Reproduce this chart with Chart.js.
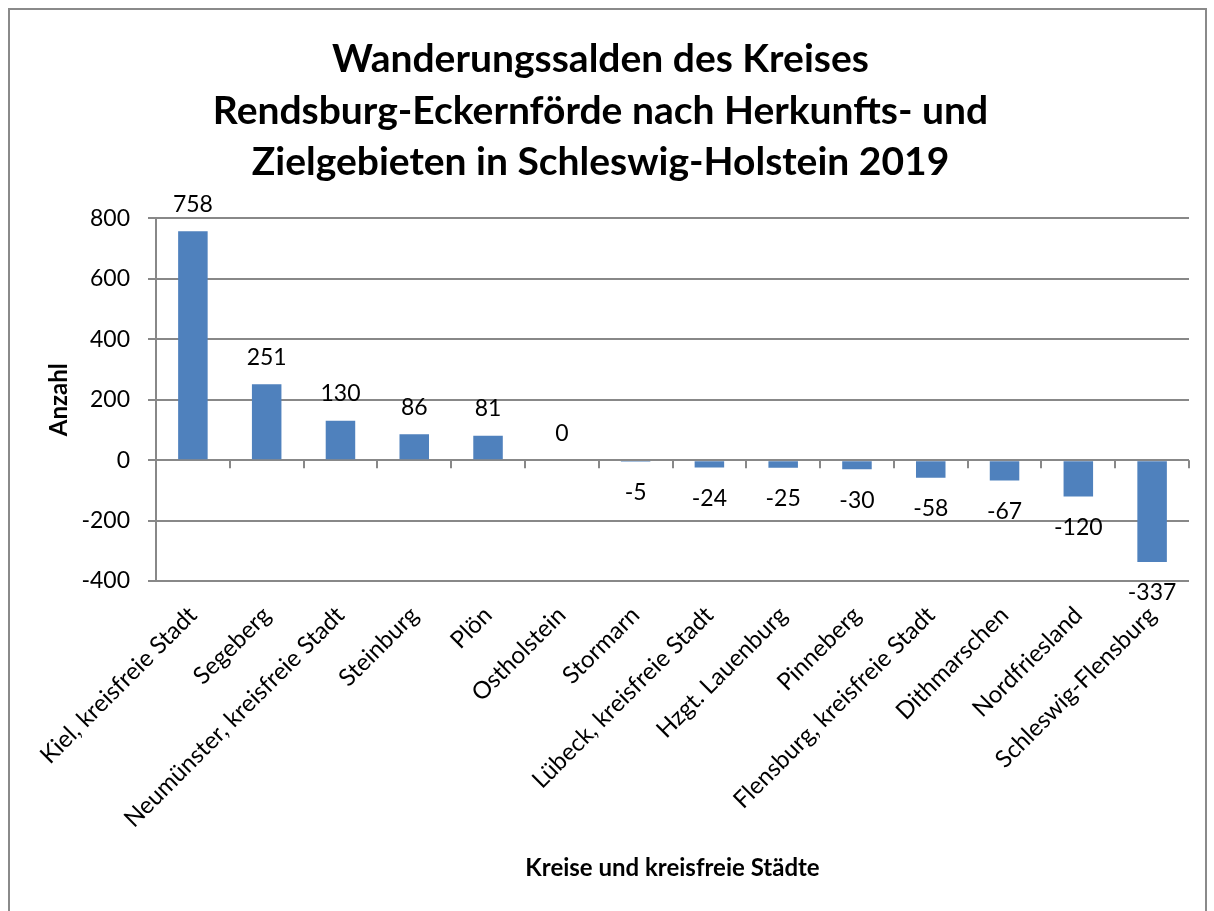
<!DOCTYPE html>
<html>
<head>
<meta charset="utf-8">
<script src="https://cdn.jsdelivr.net/npm/chart.js@4"></script>
<style>
  body { margin: 0; background: #fff; overflow: hidden; }
  #wrap { position: relative; width: 1214px; height: 911px; }
  #frame { position: absolute; left: 8px; top: 8px; width: 1195px; height: 920px;
           border: 2px solid #8a8a8a; border-bottom: none; pointer-events: none; }
</style>
</head>
<body>
<div id="wrap">
  <canvas id="myChart" width="1214" height="911"></canvas>
  <div id="frame"></div>
</div>
<script>
const kreise = ['Kiel, kreisfreie Stadt','Segeberg','Neumünster, kreisfreie Stadt','Steinburg','Plön','Ostholstein','Stormarn','Lübeck, kreisfreie Stadt','Hzgt. Lauenburg','Pinneberg','Flensburg, kreisfreie Stadt','Dithmarschen','Nordfriesland','Schleswig-Flensburg'];
const salden = [758,251,130,86,81,0,-5,-24,-25,-30,-58,-67,-120,-337];
const titleLines = ['Wanderungssalden des Kreises','Rendsburg-Eckernförde nach Herkunfts- und','Zielgebieten in Schleswig-Holstein 2019'];

const FONT = 'Lato, Calibri, sans-serif';
const GRID = '#888888';

// value labels above / below the bars
const valueLabels = {
  id: 'valueLabels',
  afterDatasetsDraw(chart) {
    const ctx = chart.ctx;
    const meta = chart.getDatasetMeta(0);
    ctx.save();
    ctx.font = '23px ' + FONT;
    ctx.fillStyle = '#000';
    ctx.textAlign = 'center';
    ctx.textBaseline = 'middle';
    meta.data.forEach((bar, i) => {
      const v = salden[i];
      const y = v >= 0 ? bar.y - 27 : bar.y + 31;
      ctx.fillText(String(v), bar.x, y);
    });
    ctx.restore();
  }
};

// tick marks along the zero line, like the original axis
const zeroTicks = {
  id: 'zeroTicks',
  beforeDatasetsDraw(chart) {
    const x = chart.scales.x, y = chart.scales.y;
    const y0 = y.getPixelForValue(0);
    const step = x.getPixelForValue(1) - x.getPixelForValue(0);
    const ctx = chart.ctx;
    ctx.save();
    ctx.strokeStyle = GRID;
    ctx.lineWidth = 2;
    ctx.beginPath();
    for (let i = 0; i < kreise.length; i++) {
      const px = Math.round(x.getPixelForValue(i) + step / 2);
      ctx.moveTo(px, y0);
      ctx.lineTo(px, y0 + 8);
    }
    ctx.stroke();
    ctx.restore();
  }
};

const data = {
  labels: kreise,
  datasets: [{
    data: salden,
    backgroundColor: '#4F81BD',
    borderWidth: 0,
    categoryPercentage: 1,
    barPercentage: 0.4
  }]
};

const config = {
  type: 'bar',
  data,
  options: {
    responsive: false,
    animation: false,
    devicePixelRatio: 1,
    layout: { padding: { left: 12, right: 25, top: 0, bottom: 22 } },
    plugins: {
      legend: { display: false },
      tooltip: { enabled: false },
      title: {
        display: true,
        text: titleLines,
        color: '#000',
        font: { family: FONT, size: 39, weight: 'bold', lineHeight: 1.32 },
        padding: { top: 34, bottom: 30 }
      }
    },
    scales: {
      x: {
        grid: { display: false, drawTicks: false },
        border: { display: false },
        ticks: {
          color: '#000',
          font: { family: FONT, size: 24 },
          minRotation: 45,
          maxRotation: 45,
          padding: 20
        },
        title: {
          display: true,
          text: 'Kreise und kreisfreie Städte',
          color: '#000',
          font: { family: FONT, size: 24, weight: 'bold' },
          padding: { top: 10, bottom: 6 }
        },
        afterFit(scale) { scale.height = 308; }
      },
      y: {
        min: -400,
        max: 800,
        ticks: {
          stepSize: 200,
          color: '#000',
          font: { family: FONT, size: 23 },
          padding: 18
        },
        grid: { color: GRID, lineWidth: 2, tickLength: 8 },
        border: { display: true, color: GRID, width: 2 },
        title: {
          display: true,
          text: 'Anzahl',
          color: '#000',
          font: { family: FONT, size: 24, weight: 'bold' },
          padding: { top: 33, bottom: 12 }
        },
        afterFit(scale) { scale.width = 144; }
      }
    }
  },
  plugins: [valueLabels, zeroTicks]
};

const myChart = new Chart(document.getElementById('myChart'), config);
</script>
</body>
</html>
